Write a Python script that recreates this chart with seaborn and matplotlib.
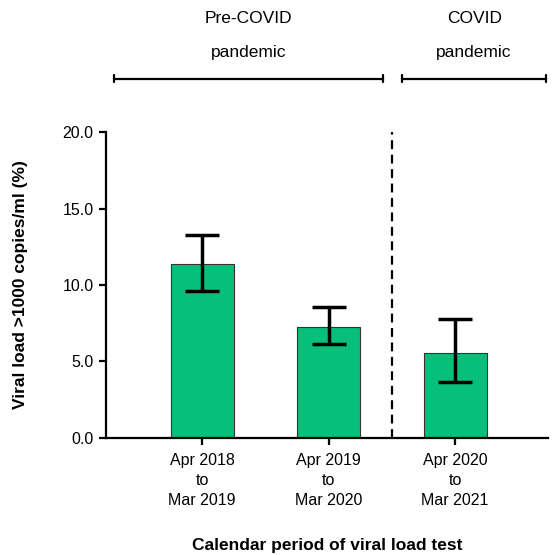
import matplotlib
matplotlib.use("Agg")
import matplotlib.pyplot as plt
import seaborn as sns
import pandas as pd

# data
periods = ["Apr 2018\nto\nMar 2019", "Apr 2019\nto\nMar 2020", "Apr 2020\nto\nMar 2021"]
pct_high_vl = [11.35, 7.23, 5.53]
ci_low = [9.59, 6.16, 3.66]
ci_high = [13.29, 8.58, 7.78]
era_labels = ["Pre-COVID\npandemic", "COVID\npandemic"]

sns.set_theme(style="white")
plt.rcParams['font.family'] = ['Liberation Sans', 'DejaVu Sans']
plt.rcParams['text.color'] = 'black'
plt.rcParams['axes.labelcolor'] = 'black'

df = pd.DataFrame({"period": periods, "pct": pct_high_vl})

fig = plt.figure(figsize=(5.52, 5.55), dpi=100)
ax = fig.add_axes([0.192, 0.211, 0.801, 0.551])

sns.barplot(data=df, x="period", y="pct", color="#06BF78", width=0.5,
            edgecolor="#333333", linewidth=0.8, saturation=1, errorbar=None, ax=ax)

# error bars
yerr = [[p - lo for p, lo in zip(pct_high_vl, ci_low)],
        [hi - p for p, hi in zip(pct_high_vl, ci_high)]]
ax.errorbar(range(len(periods)), pct_high_vl, yerr=yerr, fmt="none",
            ecolor="black", elinewidth=2.5, capsize=12.5, capthick=2.5)

ax.set_xlim(-0.76, 2.735)
ax.set_ylim(0, 20)
ax.set_yticks([0, 5, 10, 15, 20])
ax.set_yticklabels([f"{v:.1f}" for v in [0, 5, 10, 15, 20]])
ax.set_xticks(range(len(periods)), labels=periods, linespacing=1.4)

# dashed divider between the eras
ax.plot([1.5, 1.5], [0, 20], color="black", linestyle=(0, (4, 2.5)), linewidth=1.6)

sns.despine(ax=ax)
for s in ["left", "bottom"]:
    ax.spines[s].set_linewidth(1.6)
    ax.spines[s].set_color("black")
ax.tick_params(axis="both", which="both", direction="out", length=5, width=1.6,
               color="black", labelsize=11.5, labelcolor="black")
ax.tick_params(axis="x", bottom=True, pad=6)
ax.tick_params(axis="y", left=True, pad=4)

ax.set_xlabel("Calendar period of viral load test", fontsize=12.5, fontweight="bold", labelpad=22)
ax.set_ylabel("Viral load >1000 copies/ml (%)", fontsize=12.5, fontweight="bold", labelpad=25)

# era brackets above the plot
brackets = [(-0.70, 1.43), (1.58, 2.72)]
for (x0, x1), lab in zip(brackets, era_labels):
    ax.plot([x0, x1], [23.5, 23.5], color="black", linewidth=1.6, clip_on=False)
    for xe in (x0, x1):
        ax.plot([xe, xe], [23.25, 23.75], color="black", linewidth=1.6, clip_on=False)
    top, bottom = lab.split("\n")
    ax.text((x0 + x1) / 2, 27.45, top, ha="center", va="center", fontsize=12.5, clip_on=False)
    ax.text((x0 + x1) / 2, 25.2, bottom, ha="center", va="center", fontsize=12.5, clip_on=False)

plt.savefig("out.png", dpi=100)
